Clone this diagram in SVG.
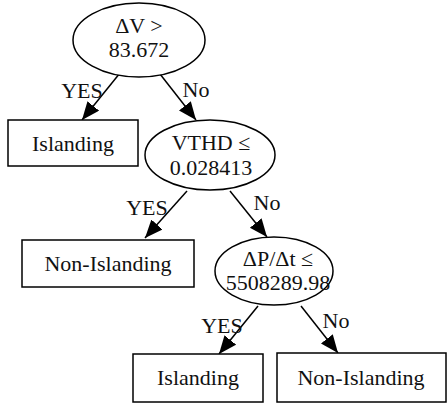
<svg xmlns="http://www.w3.org/2000/svg" width="448" height="404" viewBox="0 0 448 404">
<style>
.n{fill:#fff;stroke:#000;stroke-width:1.5}
.t{font-family:"Liberation Serif",serif;font-size:22px;fill:#111;text-anchor:middle}
.e{stroke:#000;stroke-width:1.5;fill:none;marker-end:url(#ah)}
</style>
<defs>
<marker id="ah" markerUnits="userSpaceOnUse" markerWidth="20" markerHeight="16" refX="18" refY="7.5" orient="auto">
<path d="M0,0 L18,7.5 L0,15 z" fill="#000"/>
</marker>
</defs>
<rect width="448" height="404" fill="#fff"/>
<g id="edges">
<line class="e" x1="120" y1="73" x2="82" y2="120"/>
<line class="e" x1="160" y1="74" x2="196" y2="120"/>
<line class="e" x1="187" y1="191" x2="145" y2="238"/>
<line class="e" x1="230" y1="191" x2="267" y2="237"/>
<line class="e" x1="258" y1="306" x2="219" y2="354"/>
<line class="e" x1="301" y1="306" x2="338" y2="353"/>
<text class="t" x="82" y="98">YES</text>
<text class="t" x="196" y="97">No</text>
<text class="t" x="147" y="215">YES</text>
<text class="t" x="267" y="210">No</text>
<text class="t" x="222" y="333">YES</text>
<text class="t" x="336" y="328">No</text>
</g>
<g id="root">
<ellipse class="n" cx="139" cy="40" rx="66" ry="37"/>
<text class="t" x="139" y="33">ΔV &gt;</text>
<text class="t" x="139" y="57">83.672</text>
</g>
<g id="leaf1">
<rect class="n" x="8" y="120" width="130" height="46"/>
<text class="t" x="73" y="151">Islanding</text>
</g>
<g id="vthd">
<ellipse class="n" cx="210" cy="155" rx="65" ry="35"/>
<text class="t" x="211" y="150">VTHD ≤</text>
<text class="t" x="211" y="175">0.028413</text>
</g>
<g id="leaf2">
<rect class="n" x="22" y="240" width="172" height="47"/>
<text class="t" x="108" y="271">Non-Islanding</text>
</g>
<g id="dp">
<ellipse class="n" cx="274" cy="271" rx="59" ry="34"/>
<text class="t" x="278" y="266">ΔP/Δt ≤</text>
<text class="t" x="278" y="290">5508289.98</text>
</g>
<g id="leaf3">
<rect class="n" x="133" y="354" width="130" height="48"/>
<text class="t" x="198" y="385">Islanding</text>
</g>
<g id="leaf4">
<rect class="n" x="277" y="353" width="169" height="49"/>
<text class="t" x="361" y="385">Non-Islanding</text>
</g>
</svg>
